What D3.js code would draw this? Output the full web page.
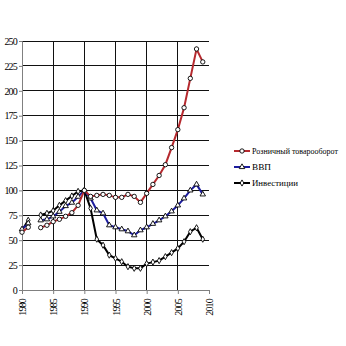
<!DOCTYPE html>
<html><head><meta charset="utf-8">
<script src="https://cdn.jsdelivr.net/npm/d3@7"></script>
<style>body{margin:0;background:#fff}svg{display:block}</style>
</head><body>
<script>
const years = d3.range(1980, 2010);
const retail = [58, 63, null, 62.6, 65, 68.6, 71, 74, 77.6, 85, 100, 94, 95, 96, 95, 93, 93, 96, 94, 88, 97, 106, 115, 125.8, 143, 161, 183, 212.5, 242, 229];
const gdp = [61, 67, null, 70, 71, 74, 78.6, 84.3, 87.7, 93.7, 100, 92, 80, 77, 65, 63, 61, 59, 55, 60, 63, 66.5, 70, 74, 79, 85, 92, 100, 106, 96];
const invest = [60, 70, null, 75.3, 77, 79.6, 85, 89.7, 94.4, 99, 100, 82, 51, 45, 35, 31.8, 28.4, 23.4, 21.8, 21.8, 26.5, 28, 29.5, 33.5, 37.5, 41.8, 48.5, 58.5, 62.5, 51];
const seriesNames = ["Розничный товарооборот", "ВВП", "Инвестиции"];
const yTicks = [0, 25, 50, 75, 100, 125, 150, 175, 200, 225, 250];
const xTicks = [1980, 1985, 1990, 1995, 2000, 2005, 2010];

const W = 346, H = 346;
const svg = d3.select("body").append("svg").attr("width", W).attr("height", H);
const x = d3.scaleLinear().domain([1980, 2010]).range([22, 209]);
const y = d3.scaleLinear().domain([0, 250]).range([290, 41]);
const font = "'Liberation Serif', 'DejaVu Serif', serif";

// gridlines
const g = svg.append("g");
g.selectAll(".hg").data(yTicks.filter(d => d > 0)).join("line")
  .attr("x1", x(1980)).attr("x2", x(2010)).attr("y1", d => y(d)).attr("y2", d => y(d))
  .attr("stroke", "#111").attr("stroke-width", 1).attr("shape-rendering", "crispEdges");
g.selectAll(".vg").data(xTicks.filter(d => d > 1980 && d < 2010)).join("line")
  .attr("x1", d => x(d)).attr("x2", d => x(d)).attr("y1", y(250)).attr("y2", y(0))
  .attr("stroke", "#111").attr("stroke-width", 1).attr("shape-rendering", "crispEdges");

// axes
const yAxis = d3.axisLeft(y).tickValues(yTicks).tickSize(3).tickPadding(2);
const ya = svg.append("g").attr("transform", `translate(${x(1980)},0)`).call(yAxis);
ya.select(".domain").attr("stroke", "#808080");
ya.selectAll(".tick line").attr("stroke", "#808080");
ya.selectAll("text").attr("font-family", font).attr("font-size", 10).attr("fill", "#000")
  .attr("letter-spacing", "-0.8px");

const xAxis = d3.axisBottom(x).tickValues(xTicks).tickFormat(d3.format("d")).tickSize(4);
const xa = svg.append("g").attr("transform", `translate(0,${y(0)})`).call(xAxis);
xa.select(".domain").attr("stroke", "#808080");
xa.selectAll(".tick line").attr("stroke", "#808080");
xa.selectAll("text").attr("font-family", font).attr("font-size", 10).attr("fill", "#000")
  .attr("letter-spacing", "-0.8px")
  .attr("transform", "rotate(-90)").attr("text-anchor", "end")
  .attr("x", -9).attr("y", 0).attr("dy", "0.35em");

// series
const series = [
  {name: seriesNames[0], vals: retail, color: "#b5292e", sym: d3.symbolCircle, size: 15},
  {name: seriesNames[1], vals: gdp, color: "#1c1c9e", sym: d3.symbolTriangle, size: 13},
  {name: seriesNames[2], vals: invest, color: "#000000", sym: d3.symbolDiamond, size: 11}
];
const line = d3.line().defined(d => d[1] != null).x(d => x(d[0])).y(d => y(d[1]));
series.slice().reverse().forEach(s => {
  const pts = years.map((yr, i) => [yr, s.vals[i]]);
  svg.append("path").datum(pts).attr("d", line).attr("fill", "none")
    .attr("stroke", s.color).attr("stroke-width", 2);
  svg.append("g").selectAll("path").data(pts.filter(d => d[1] != null)).join("path")
    .attr("d", d3.symbol().type(s.sym).size(s.size))
    .attr("transform", d => `translate(${x(d[0])},${y(d[1])})`)
    .attr("fill", "#fff").attr("stroke", "#000").attr("stroke-width", 0.9);
});

// legend
const legY = [151, 167, 183];
const legW = [86, 19, 46];
series.forEach((s, i) => {
  const lg = svg.append("g").attr("transform", `translate(234,${legY[i]})`);
  lg.append("line").attr("x1", 0).attr("x2", 16).attr("y1", 0).attr("y2", 0)
    .attr("stroke", s.color).attr("stroke-width", 2);
  lg.append("path").attr("d", d3.symbol().type(s.sym).size(s.size)())
    .attr("transform", "translate(8,0)").attr("fill", "#fff").attr("stroke", "#000").attr("stroke-width", 0.9);
  lg.append("text").attr("x", 18).attr("y", 0).attr("dy", "0.35em")
    .attr("font-family", font).attr("font-size", 8.5).attr("fill", "#000")
    .attr("textLength", legW[i]).attr("lengthAdjust", "spacingAndGlyphs")
    .text(s.name);
});
</script>
</body></html>
